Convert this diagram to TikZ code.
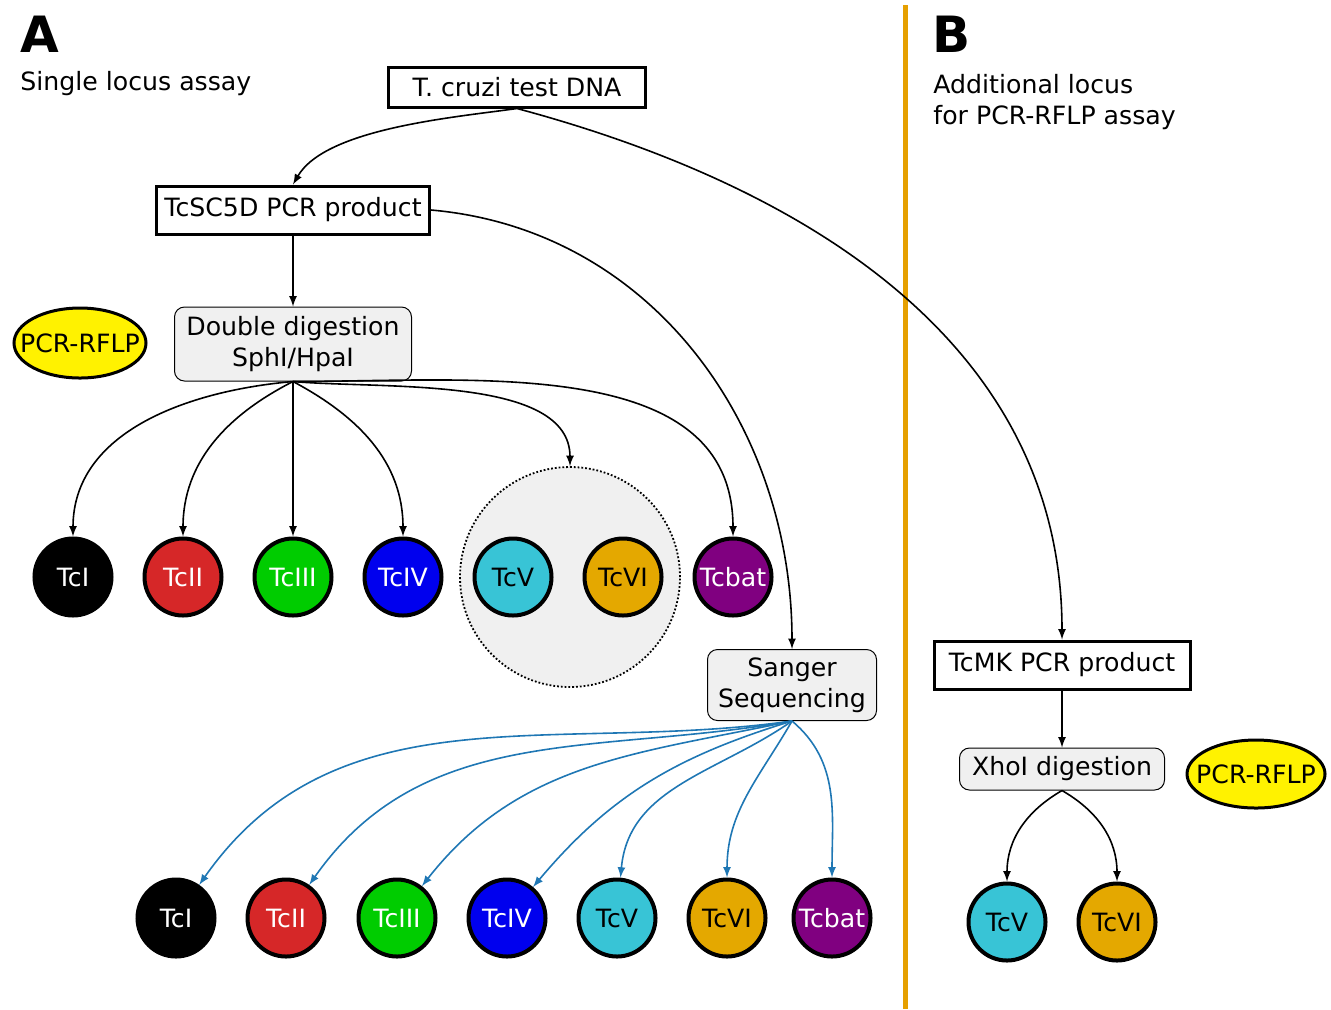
\documentclass[tikz,border=0pt]{standalone}
\usepackage{fontspec}
\setmainfont{DejaVu Sans}
\usetikzlibrary{arrows,shapes.geometric,calc}

\definecolor{boxgray}{RGB}{240,240,240}
\definecolor{tcred}{RGB}{214,39,40}
\definecolor{tcgreen}{RGB}{0,204,0}
\definecolor{tcblue}{RGB}{0,0,238}
\definecolor{tccyan}{RGB}{56,196,214}
\definecolor{tcgold}{RGB}{228,168,0}
\definecolor{tcpurple}{RGB}{128,0,128}
\definecolor{lineorange}{RGB}{230,160,0}
\definecolor{seqblue}{RGB}{31,119,180}

\begin{document}
\begin{tikzpicture}
[x=0.5pt, y=0.5pt, >=latex,
every node/.style={font=\fontsize{12.6}{15.5}\selectfont},
pcrbox/.style={draw,line width=1.5pt,inner sep=0pt,minimum height=20pt},
stepbox/.style={draw,line width=0.5pt,rounded corners=5pt,fill=boxgray,inner sep=0pt,align=center},
dtu/.style={circle,draw,line width=2pt,minimum size=38.5pt,inner sep=0pt},
rflp/.style={ellipse,draw,line width=1.5pt,fill=yellow,inner xsep=-7pt,inner ysep=0pt},
link/.style={->,line width=0.8pt},
seq/.style={->,line width=0.8pt,color=seqblue}]
\useasboundingbox (0,0) rectangle (1331,-1009);

% panel titles
\node[font=\bfseries\fontsize{25}{25}\selectfont,anchor=base west,inner sep=0pt] (labA) at (20,-52) {A};
\node[anchor=base west,inner sep=0pt] (titleA) at (20,-90) {Single locus assay};
\node[font=\bfseries\fontsize{25}{25}\selectfont,anchor=base west,inner sep=0pt] (labB) at (932,-52) {B};
\node[anchor=base west,inner sep=0pt,align=left] (titleB) at (933,-124) {Additional locus\\for PCR-RFLP assay};
\draw[line width=2.5pt,color=lineorange] (905,-5) -- (905,-1009);

% boxes
\node[pcrbox,minimum width=128.5pt] (dna) at (517,-87) {T. cruzi test DNA};
\node[pcrbox,minimum width=136.5pt,minimum height=24pt] (sc5d) at (293,-210) {TcSC5D PCR product};
\node[stepbox,minimum width=118.5pt,minimum height=37pt] (dd) at (293,-344) {Double digestion\\SphI/HpaI};
\node[rflp,minimum width=66pt,minimum height=35pt] (rflpA) at (80,-343) {PCR-RFLP};
\node[stepbox,minimum width=84.5pt,minimum height=35.5pt] (sanger) at (792,-685) {Sanger\\Sequencing};
\node[pcrbox,minimum width=128pt,minimum height=24pt] (tcmk) at (1062,-665) {TcMK PCR product};
\node[stepbox,minimum width=102.5pt,minimum height=21pt] (xho) at (1062,-769) {XhoI digestion};
\node[rflp,minimum width=69pt,minimum height=34pt] (rflpB) at (1256,-774) {PCR-RFLP};

% DTUs
\node[circle,draw,densely dotted,line width=0.9pt,fill=boxgray,minimum size=110pt] (group) at (570,-577) {};
\foreach \x/\n/\lab/\col/\txt in {73/I/TcI/black/white, 183/II/TcII/tcred/white,
  293/III/TcIII/tcgreen/white, 403/IV/TcIV/tcblue/white, 513/V/TcV/tccyan/black,
  623/VI/TcVI/tcgold/black, 733/bat/Tcbat/tcpurple/white}
  \node[dtu,fill=\col,text=\txt] (a\n) at (\x,-577) {\lab};
\foreach \x/\n/\lab/\col/\txt in {176/I/TcI/black/white, 286/II/TcII/tcred/white,
  397/III/TcIII/tcgreen/white, 507/IV/TcIV/tcblue/white, 617/V/TcV/tccyan/black,
  727/VI/TcVI/tcgold/black, 832/bat/Tcbat/tcpurple/white}
  \node[dtu,fill=\col,text=\txt] (s\n) at (\x,-918) {\lab};
\node[dtu,fill=tccyan] (bV) at (1007,-922) {TcV};
\node[dtu,fill=tcgold] (bVI) at (1117,-922) {TcVI};

% connectors
\draw[link] (dna.south) to[out=188,in=60,looseness=0.7] (sc5d.north);
\draw[link] (dna.south) to[out=-15,in=90] (tcmk.north);
\draw[link] (sc5d.east) to[out=-5,in=90] (sanger.north);
\draw[link] (sc5d) -- (dd);
\draw[link] (tcmk) -- (xho);

\draw[link] (dd.south) to[out=185,in=90] (aI.north);
\draw[link] (dd.south) to[out=207,in=90] (aII.north);
\draw[link] (dd.south) -- (aIII.north);
\draw[link] (dd.south) to[out=-28,in=90] (aIV.north);
\draw[link] (dd.south) to[out=-5,in=90,looseness=0.8] (group.north);
\draw[link] (dd.south) to[out=0,in=90] (abat.north);

\foreach \n/\o/\i in {I/188/55, II/190/55, III/192/52, IV/197/50, V/215/85, VI/240/90, bat/-40/90}
  \draw[seq] (sanger.south) to[out=\o,in=\i] (s\n);

\draw[link] (xho.south) to[out=210,in=90] (bV);
\draw[link] (xho.south) to[out=-30,in=90] (bVI);
\end{tikzpicture}
\end{document}
